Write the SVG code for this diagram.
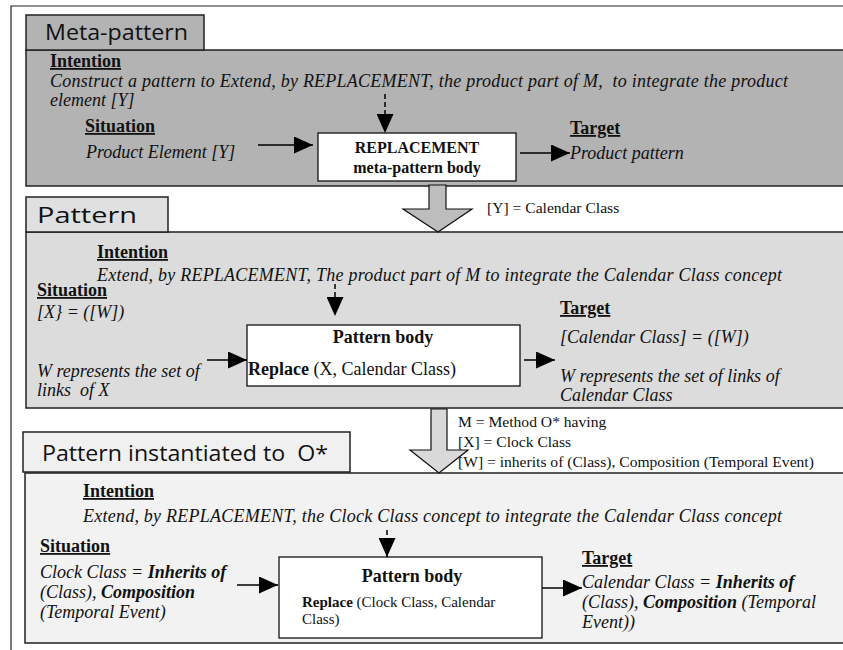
<svg xmlns="http://www.w3.org/2000/svg" width="843" height="650" viewBox="0 0 843 650">
<style>
text{font-family:"Liberation Serif","Times New Roman",serif;fill:#111;white-space:pre}
.tab{font-family:"Comic Sans MS","Open Sans","DejaVu Sans",sans-serif;font-size:22px}
.lbl{font-weight:bold;font-size:18px;text-decoration:underline}
.it{font-style:italic;font-size:18px}
.b{font-weight:bold}
.box{fill:#fff;stroke:#111;stroke-width:1.3}
.panel{stroke:#222;stroke-width:1.5}
.con{stroke:#000;stroke-width:1.5;fill:none}
.dash{stroke-dasharray:5,3}
.blk{stroke:#111;stroke-width:1.2}
.note{font-size:15.6px}
</style>
<defs>
<marker id="ah" markerUnits="userSpaceOnUse" markerWidth="19" markerHeight="17" refX="19" refY="8.5" orient="auto">
<path d="M0,0 L19,8.5 L0,17 Z" fill="#000"/>
</marker>
</defs>
<rect width="843" height="650" fill="#fff"/>
<path d="M11,650 V6 H843" fill="none" stroke="#222" stroke-width="1.2"/>

<g id="meta-pattern">
<rect class="panel" x="26" y="50" width="830" height="136" fill="#b3b3b3"/>
<rect class="panel" x="26" y="15" width="178" height="35" fill="#b3b3b3"/>
<text class="tab" x="45" y="40" textLength="143" lengthAdjust="spacingAndGlyphs">Meta-pattern</text>
<text class="lbl" x="50" y="67">Intention</text>
<text class="it" x="50" y="87" textLength="738">Construct a pattern to Extend, by REPLACEMENT, the product part of M,  to integrate the product</text>
<text class="it" x="50" y="106">element [Y]</text>
<text class="lbl" x="85" y="132">Situation</text>
<text class="it" x="86" y="158">Product Element [Y]</text>
<text class="lbl" x="570" y="134">Target</text>
<text class="it" x="570" y="159">Product pattern</text>
</g>
<g id="meta-body">
<rect class="box" x="318" y="133" width="198" height="48"/>
<text class="b" x="417" y="153" font-size="16" text-anchor="middle">REPLACEMENT</text>
<text class="b" x="417" y="173" font-size="16" text-anchor="middle">meta-pattern body</text>
</g>

<g id="pattern">
<rect class="panel" x="26" y="232" width="830" height="176" fill="#dcdcdc"/>
<rect class="panel" x="26" y="197" width="142" height="35" fill="#e0e0e0"/>
<text class="tab" x="37" y="223" textLength="100" lengthAdjust="spacingAndGlyphs">Pattern</text>
<text class="lbl" x="97" y="258">Intention</text>
<text class="it" x="97" y="281" textLength="685">Extend, by REPLACEMENT, The product part of M to integrate the Calendar Class concept</text>
<text class="lbl" x="37" y="296">Situation</text>
<text class="it" x="37" y="318">[X} = ([W])</text>
<text class="it" x="37" y="377">W represents the set of</text>
<text class="it" x="37" y="396">links  of X</text>
<text class="lbl" x="560" y="314">Target</text>
<text class="it" x="560" y="343">[Calendar Class] = ([W])</text>
<text class="it" x="560" y="382">W represents the set of links of</text>
<text class="it" x="560" y="401">Calendar Class</text>
</g>
<g id="pattern-body">
<rect class="box" x="247" y="325" width="273" height="61"/>
<text class="b" x="383" y="343" font-size="18" text-anchor="middle">Pattern body</text>
<text x="248" y="375" font-size="18"><tspan class="b">Replace</tspan> (X, Calendar Class)</text>
</g>

<g id="instance">
<rect class="panel" x="25" y="473" width="830" height="170" fill="#f2f2f2"/>
<rect class="panel" x="23" y="432" width="327" height="40" fill="#f0f0f0"/>
<text class="tab" x="42" y="461" textLength="286" lengthAdjust="spacingAndGlyphs">Pattern instantiated to  O*</text>
<text class="lbl" x="83" y="497">Intention</text>
<text class="it" x="83" y="522" textLength="699">Extend, by REPLACEMENT, the Clock Class concept to integrate the Calendar Class concept</text>
<text class="lbl" x="40" y="552">Situation</text>
<text class="it" x="40" y="578">Clock Class = <tspan class="b">Inherits of</tspan></text>
<text class="it" x="40" y="598">(Class), <tspan class="b">Composition</tspan></text>
<text class="it" x="40" y="618">(Temporal Event)</text>
<text class="lbl" x="582" y="564">Target</text>
<text class="it" x="582" y="588">Calendar Class = <tspan class="b">Inherits of</tspan></text>
<text class="it" x="582" y="608">(Class), <tspan class="b">Composition</tspan> (Temporal</text>
<text class="it" x="582" y="628">Event))</text>
</g>
<g id="instance-body">
<rect class="box" x="279" y="557" width="263" height="81"/>
<text class="b" x="412" y="582" font-size="18" text-anchor="middle">Pattern body</text>
<text x="302" y="607" font-size="15"><tspan class="b">Replace</tspan> (Clock Class, Calendar</text>
<text x="302" y="624" font-size="15">Class)</text>
</g>

<g id="derivation-1">
<polygon class="blk" points="429,185 446,185 446,209 472,209 438,232 403,209 429,209" fill="#bdbdbd"/>
<text class="note" x="487" y="213">[Y] = Calendar Class</text>
</g>
<g id="derivation-2">
<polygon class="blk" points="431,409 447,409 447,450 468,450 439,473 410,450 431,450" fill="#d9d9d9"/>
<text class="note" x="458" y="427">M = Method O* having</text>
<text class="note" x="458" y="447">[X] = Clock Class</text>
<text class="note" x="458" y="467">[W] = inherits of (Class), Composition (Temporal Event)</text>
</g>

<g id="connectors">
<line class="con" x1="258" y1="145" x2="313" y2="145" marker-end="url(#ah)"/>
<line class="con" x1="520" y1="153" x2="570" y2="153" marker-end="url(#ah)"/>
<line class="con dash" x1="385" y1="94" x2="385" y2="133" marker-end="url(#ah)"/>
<line class="con" x1="207" y1="360" x2="247" y2="360" marker-end="url(#ah)"/>
<line class="con" x1="524" y1="360" x2="555" y2="360" marker-end="url(#ah)"/>
<line class="con dash" x1="335" y1="284" x2="335" y2="316" marker-end="url(#ah)"/>
<line class="con" x1="237" y1="585" x2="278" y2="585" marker-end="url(#ah)"/>
<line class="con" x1="542" y1="588" x2="582" y2="588" marker-end="url(#ah)"/>
<line class="con dash" x1="387" y1="530" x2="387" y2="557" marker-end="url(#ah)"/>
</g>
</svg>
